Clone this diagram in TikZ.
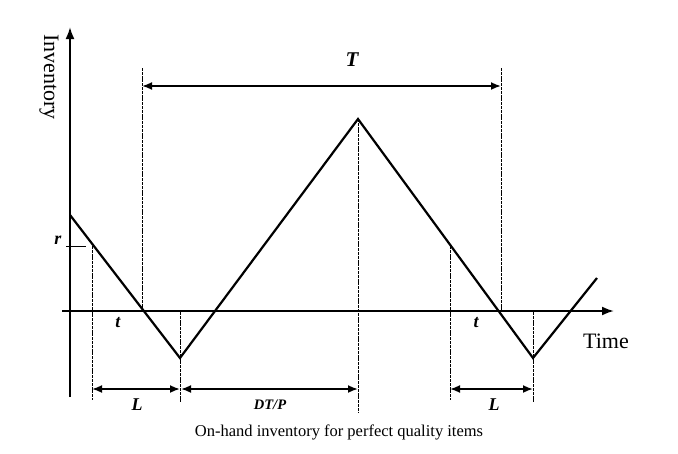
\documentclass[tikz,border=0pt]{standalone}
\usepackage{fontspec}
\setmainfont{Liberation Serif}
\usetikzlibrary{arrows.meta}
\begin{document}
\begin{tikzpicture}[x=1pt,y=-1pt,
  thick line/.style={line width=2.2pt},
  guide/.style={line width=0.7pt,dash pattern=on 3pt off 0.8pt},
  dim/.style={line width=1.8pt,{Latex[length=10pt,width=8pt]}-{Latex[length=10pt,width=8pt]}},
  lab/.style={font=\fontsize{18}{18}\selectfont\itshape\bfseries}]
\useasboundingbox (0,0) rectangle (678,453);
% axes
\coordinate (yb) at (70,397); \coordinate (yt) at (70,27);
\coordinate (xl) at (62,311); \coordinate (xr) at (614,311);
\draw[line width=2pt,-{Latex[length=12pt,width=9pt]}] (yb) -- (yt);
\draw[line width=2pt,-{Latex[length=12pt,width=9pt]}] (xl) -- (xr);
\node[rotate=-90,anchor=west,font=\fontsize{22}{22}\selectfont,inner sep=0pt] (inv) at (49,34) {Inventory};
\node[font=\fontsize{22}{22}\selectfont] (time) at (606,341) {Time};
% inventory curve
\coordinate (p0) at (70,215); \coordinate (p1) at (180,358);
\coordinate (p2) at (358,119); \coordinate (p3) at (533,358);
\coordinate (p4) at (597,278);
\draw[thick line,line join=miter] (p0) -- (p1) -- (p2) -- (p3) -- (p4);
% r tick
\coordinate (r0) at (66,246); \coordinate (r1) at (86,246);
\draw[line width=1pt] (r0) -- (r1);
\node[lab] (r) at (58,240) {r};
% guides
\draw[guide] (92,246) -- (92,400);
\draw[guide] (142,68) -- (142,311);
\draw[guide] (180,312) -- (180,402);
\draw[guide] (358,119) -- (358,412);
\draw[guide] (450,246) -- (450,400);
\draw[guide] (501,68) -- (501,311);
\draw[guide] (533,312) -- (533,402);
% dimension arrows
\coordinate (ta) at (142,86); \coordinate (tb) at (501,86);
\draw[dim] (ta) -- (tb);
\node[font=\fontsize{21}{21}\selectfont\itshape\bfseries] (T) at (352,60) {T};
\coordinate (l1a) at (92,389); \coordinate (l1b) at (180,389);
\coordinate (da) at (181,389); \coordinate (db) at (358,389);
\coordinate (l2a) at (450,389); \coordinate (l2b) at (533,389);
\draw[dim] (l1a) -- (l1b);
\draw[dim] (da) -- (db);
\draw[dim] (l2a) -- (l2b);
\node[lab] (L1) at (137,405) {L};
\node[font=\fontsize{14.5}{14.5}\selectfont\itshape\bfseries] (dtp) at (270,405) {DT/P};
\node[lab] (L2) at (494,405) {L};
\node[lab] (t1) at (118,323) {t};
\node[lab] (t2) at (476,323) {t};
\node[font=\fontsize{16.5}{16.5}\selectfont] (cap) at (339,432) {On-hand inventory for perfect quality items};
\end{tikzpicture}
\end{document}
